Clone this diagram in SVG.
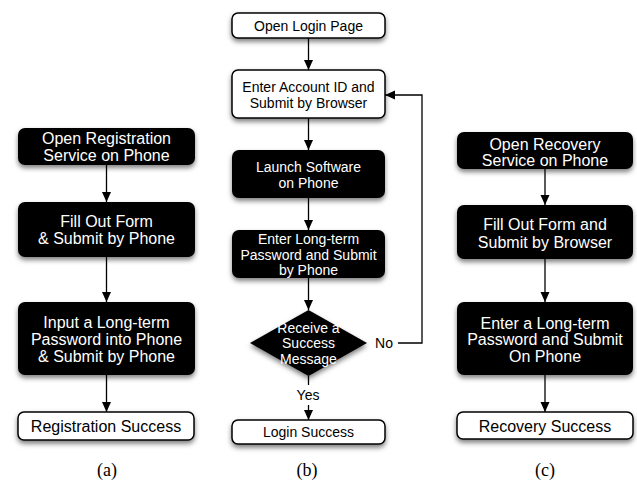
<svg xmlns="http://www.w3.org/2000/svg" width="637" height="480" viewBox="0 0 637 480">
<style>
.bk{fill:#000;filter:url(#sh)}
.wh{fill:#fff;stroke:#000;stroke-width:1.5;filter:url(#sh)}
.tw{fill:#fff;font-family:"Liberation Sans",Arial,sans-serif;text-anchor:middle}
.tb{fill:#000;font-family:"Liberation Sans",Arial,sans-serif;text-anchor:middle}
.a16{font-size:16px}
.a14{font-size:14px}
.cap{fill:#000;font-family:"Liberation Serif","Times New Roman",serif;font-size:18px;text-anchor:middle}
.ln{stroke:#000;stroke-width:1.3;fill:none}
.ar{marker-end:url(#ah)}
</style>
<defs>
<filter id="sh" x="-10%" y="-20%" width="120%" height="160%">
<feDropShadow dx="0" dy="3" stdDeviation="2.4" flood-color="#000" flood-opacity="0.5"/>
</filter>
<marker id="ah" markerUnits="userSpaceOnUse" markerWidth="10" markerHeight="10" refX="10" refY="4.5" orient="auto">
<path d="M0,0 L10,4.5 L0,9 z" fill="#000"/>
</marker>
</defs>
<rect width="637" height="480" fill="#fff"/>

<g id="connectors">
<line class="ln ar" x1="106.5" y1="165" x2="106.5" y2="202"/>
<line class="ln ar" x1="106.5" y1="257" x2="106.5" y2="302"/>
<line class="ln ar" x1="106.5" y1="375" x2="106.5" y2="412"/>
<line class="ln ar" x1="308.5" y1="38" x2="308.5" y2="70"/>
<line class="ln ar" x1="308.5" y1="118" x2="308.5" y2="150"/>
<line class="ln ar" x1="308.5" y1="198" x2="308.5" y2="230"/>
<line class="ln ar" x1="308.5" y1="278" x2="308.5" y2="310"/>
<line class="ln" x1="308.5" y1="376" x2="308.5" y2="385"/>
<line class="ln ar" x1="308.5" y1="405" x2="308.5" y2="420"/>
<polyline class="ln ar" points="398,343 422,343 422,95 385,95"/>
<line class="ln ar" x1="545" y1="169" x2="545" y2="205"/>
<line class="ln ar" x1="545" y1="259" x2="545" y2="302"/>
<line class="ln ar" x1="545" y1="375" x2="545" y2="412"/>
<text class="tb a14" x="384" y="348">No</text>
<text class="tb a14" x="308" y="400">Yes</text>
</g>

<g id="a1"><rect class="bk" x="18" y="128" width="177" height="37" rx="7"/>
<text class="tw a16" x="106.5" y="144">Open Registration</text>
<text class="tw a16" x="106.5" y="160.5">Service on Phone</text></g>
<g id="a2"><rect class="bk" x="18" y="202" width="177" height="55" rx="7"/>
<text class="tw a16" x="106.5" y="226.5">Fill Out Form</text>
<text class="tw a16" x="106.5" y="243.5">&amp; Submit by Phone</text></g>
<g id="a3"><rect class="bk" x="18" y="302" width="177" height="73" rx="7"/>
<text class="tw a16" x="106.5" y="327.5">Input a Long-term</text>
<text class="tw a16" x="106.5" y="344.5">Password into Phone</text>
<text class="tw a16" x="106.5" y="361.5">&amp; Submit by Phone</text></g>
<g id="a4"><rect class="wh" x="18" y="412" width="176" height="28" rx="6"/>
<text class="tb a16" x="106" y="431.5">Registration Success</text></g>

<g id="b1"><rect class="wh" x="232" y="13" width="153" height="25" rx="6"/>
<text class="tb a14" x="308.5" y="31">Open Login Page</text></g>
<g id="b2"><rect class="wh" x="232" y="70" width="153" height="48" rx="6"/>
<text class="tb a14" x="308.5" y="92">Enter Account ID and</text>
<text class="tb a14" x="308.5" y="107.5">Submit by Browser</text></g>
<g id="b3"><rect class="bk" x="232" y="150" width="153" height="48" rx="7"/>
<text class="tw a14" x="308.5" y="172">Launch Software</text>
<text class="tw a14" x="308.5" y="187.5">on Phone</text></g>
<g id="b4"><rect class="bk" x="232" y="230" width="153" height="48" rx="7"/>
<text class="tw a14" x="308.5" y="244">Enter Long-term</text>
<text class="tw a14" x="308.5" y="259.5">Password and Submit</text>
<text class="tw a14" x="308.5" y="275">by Phone</text></g>
<g id="b5"><polygon class="bk" points="308.5,310 367,343 308.5,376 250,343"/>
<text class="tw a14" x="308.5" y="332.5">Receive a</text>
<text class="tw a14" x="308.5" y="348">Success</text>
<text class="tw a14" x="308.5" y="363.5">Message</text></g>
<g id="b6"><rect class="wh" x="232" y="420" width="153" height="24" rx="6"/>
<text class="tb a14" x="308.5" y="437">Login Success</text></g>

<g id="c1"><rect class="bk" x="457" y="132" width="176" height="37" rx="7"/>
<text class="tw a16" x="545" y="149.5">Open Recovery</text>
<text class="tw a16" x="545" y="166">Service on Phone</text></g>
<g id="c2"><rect class="bk" x="457" y="205" width="176" height="54" rx="7"/>
<text class="tw a16" x="545" y="229.5">Fill Out Form and</text>
<text class="tw a16" x="545" y="247.5">Submit by Browser</text></g>
<g id="c3"><rect class="bk" x="457" y="302" width="176" height="73" rx="7"/>
<text class="tw a16" x="545" y="328.5">Enter a Long-term</text>
<text class="tw a16" x="545" y="344.5">Password and Submit</text>
<text class="tw a16" x="545" y="361.5">On Phone</text></g>
<g id="c4"><rect class="wh" x="457" y="412" width="176" height="27" rx="6"/>
<text class="tb a16" x="545" y="431.5">Recovery Success</text></g>

<g id="captions">
<text class="cap" x="107" y="476">(a)</text>
<text class="cap" x="307" y="476">(b)</text>
<text class="cap" x="545" y="476">(c)</text>
</g>
</svg>
